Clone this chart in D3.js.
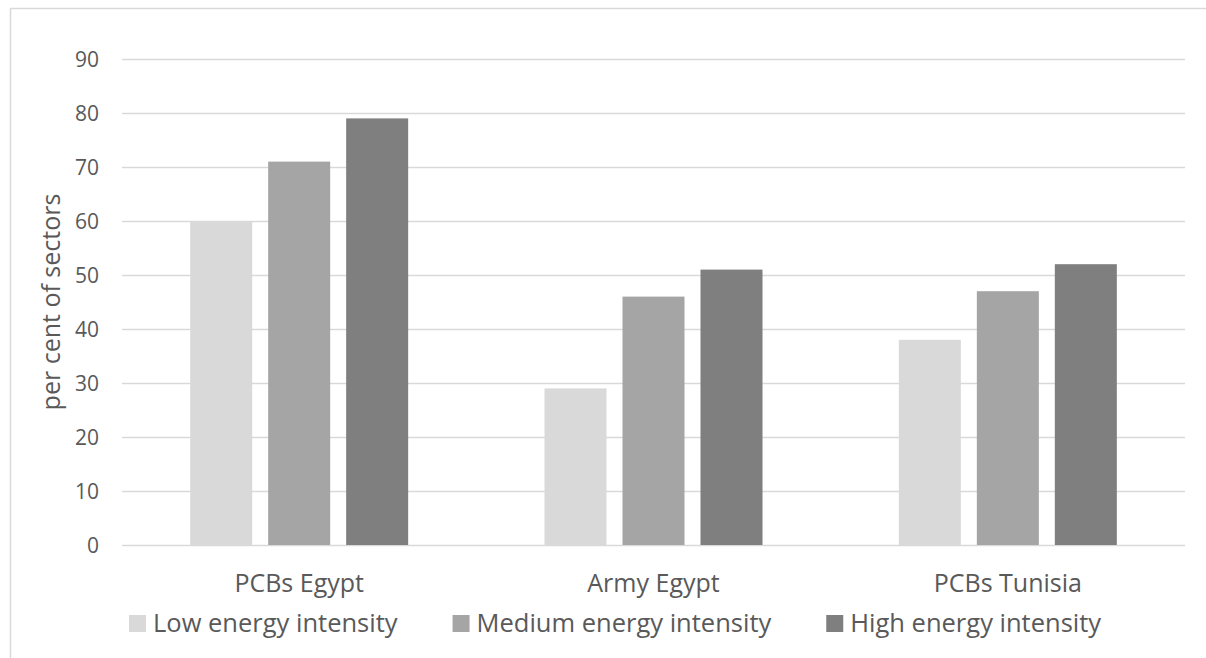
<!DOCTYPE html>
<html>
<head>
<meta charset="utf-8">
<script src="https://cdn.jsdelivr.net/npm/d3@7"></script>
<style>
  html, body { margin: 0; padding: 0; background: #fff; }
  svg { display: block; }
  text { font-family: "Open Sans", "Noto Sans", sans-serif; fill: #595959; }
</style>
</head>
<body>
<svg id="chart" width="1206" height="658"></svg>
<script>
const categories = ["PCBs Egypt", "Army Egypt", "PCBs Tunisia"];
const seriesNames = ["Low energy intensity", "Medium energy intensity", "High energy intensity"];
const lowValues = [60, 29, 38];
const mediumValues = [71, 46, 47];
const highValues = [79, 51, 52];
const yTicks = [0, 10, 20, 30, 40, 50, 60, 70, 80, 90];
const colors = ["#d9d9d9", "#a5a5a5", "#7f7f7f"];
const yTitle = "per cent of sectors";

(function () {
const seriesValues = [lowValues, mediumValues, highValues];
const svg = d3.select("#chart");

// outer chart border
svg.append("rect").attr("x", 10.5).attr("y", 8.5).attr("width", 1400).attr("height", 800)
  .attr("fill", "none").attr("stroke", "#d9d9d9").attr("stroke-width", 1.5);

const pLeft = 122, pRight = 1185, pTop = 59, pBottom = 545;
const x0 = d3.scaleBand().domain(categories).range([pLeft, pRight]).padding(0);
const x1 = d3.scaleBand().domain(seriesNames).range([0, x0.bandwidth()])
  .paddingInner(0.205).paddingOuter(0.874);
const y = d3.scaleLinear().domain([0, 90]).range([pBottom, pTop]);

// gridlines
svg.append("g").selectAll("line").data(yTicks).join("line")
  .attr("x1", pLeft).attr("x2", pRight)
  .attr("y1", d => Math.round(y(d)) + 0.5).attr("y2", d => Math.round(y(d)) + 0.5)
  .attr("stroke", "#d9d9d9").attr("stroke-width", 1.5);

// y tick labels
svg.append("g").selectAll("text").data(yTicks).join("text")
  .attr("x", 99).attr("y", d => y(d)).attr("dy", "0.36em")
  .attr("text-anchor", "end").style("font-size", "21px").text(d => d);

// bars
const groups = svg.append("g").selectAll("g").data(categories).join("g")
  .attr("transform", c => `translate(${x0(c)},0)`);
groups.selectAll("rect")
  .data((c, i) => seriesNames.map((s, j) => ({ s, j, v: seriesValues[j][i] })))
  .join("rect")
  .attr("x", d => x1(d.s)).attr("width", x1.bandwidth())
  .attr("y", d => y(d.v)).attr("height", d => y(0) - y(d.v))
  .attr("fill", d => colors[d.j]);

// category labels
svg.append("g").selectAll("text").data(categories).join("text")
  .attr("x", c => x0(c) + x0.bandwidth() / 2).attr("y", 592)
  .attr("text-anchor", "middle").style("font-size", "25px").text(c => c);

// y axis title
svg.append("text").attr("transform", `translate(60,${(pTop + pBottom) / 2}) rotate(-90)`)
  .attr("text-anchor", "middle").style("font-size", "25px").text(yTitle);

// legend
const legend = svg.append("g");
let lx = 129;
seriesNames.forEach((s, j) => {
  legend.append("rect").attr("x", lx).attr("y", 615).attr("width", 17).attr("height", 17)
    .attr("fill", colors[j]);
  const t = legend.append("text").attr("x", lx + 24).attr("y", 632)
    .style("font-size", "25.5px").text(s);
  lx += 24 + t.node().getComputedTextLength() + 55;
});
})();
</script>
</body>
</html>
